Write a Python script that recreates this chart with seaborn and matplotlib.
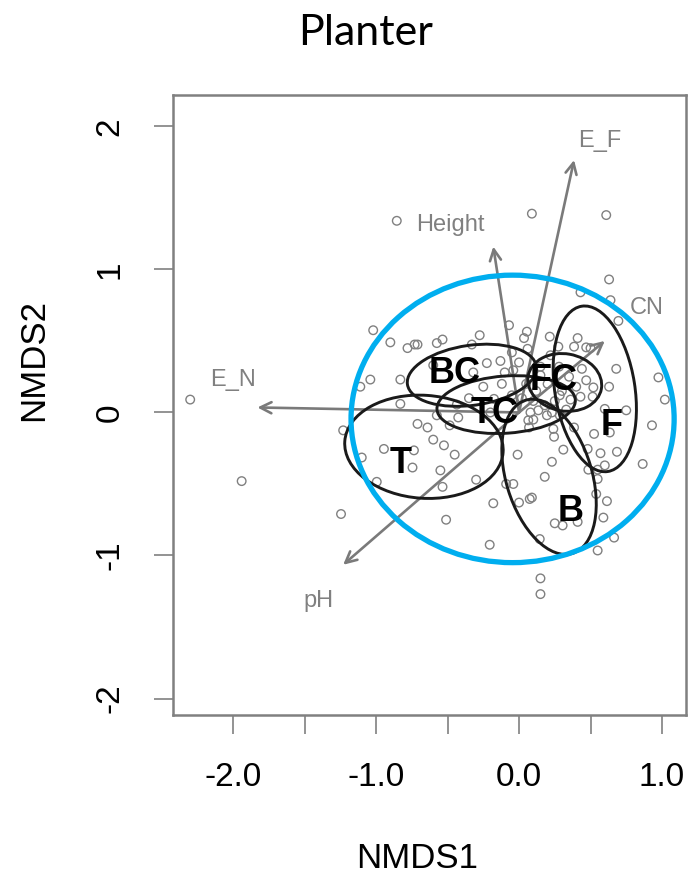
import numpy as np
import pandas as pd
import seaborn as sns
import matplotlib.pyplot as plt
from matplotlib.patches import Ellipse

# site scores
nmds1 = [-2.30, -1.94, -1.245, -0.855, 0.09, 0.61, 0.15, 0.15,
         -1.02, -0.90, -0.78, -0.73, -0.71, -0.575, -0.535, -0.33, -0.275, -0.225, -0.13, -0.32,
         -1.04, -0.83, -0.10, -0.07, -0.60,
         0.63, 0.43, 0.64, 0.695, 0.055, 0.035, 0.215, 0.41, 0.385, 0.47, 0.50, 0.275, 0.06,
         0.68, 0.44, 0.975, -0.04, 0.15,
         -1.11, -0.83, -0.575, -0.435, -0.425, -0.175, -0.71, -0.64, -1.23, -0.60, -0.525, -0.945,
         -0.735, -0.45, -1.10, -0.745, -0.55, -0.30, -0.535, -0.995, -0.18, -0.09, -0.485,
         0.63, 0.52, 0.47, 0.43, 0.515, 0.36, 0.285, 1.02, 0.60, 0.75, 0.93, 0.08, 0.135, 0.195,
         0.23, 0.285, 0.065, 0.07, 0.24, 0.245, 0.385, 0.525, 0.635, 0.31, 0.48, 0.57, 0.685,
         -0.01, 0.23, 0.485, 0.55, 0.60, 0.865, 0.18, 0.55, -0.04, 0.54, 0.615, 0.075, 0.09,
         -0.51, -0.205, 0.145, 0.25, 0.305, 0.41, 0.59, 0.665, 0.55, 0.0,
         0.02, 0.10, 0.18, 0.25, 0.12, -0.05, 0.30, 0.20, 0.05, 0.35, 0.40, 0.15, -0.12, 0.28,
         0.10, 0.33, -0.25, -0.20, 0.00, 0.22, -0.35, -0.05]
nmds2 = [0.09, -0.48, -0.71, 1.34, 1.39, 1.38, -1.16, -1.27,
         0.575, 0.49, 0.45, 0.475, 0.475, 0.485, 0.51, 0.475, 0.54, 0.345, 0.36, 0.28,
         0.23, 0.23, 0.28, 0.61, 0.33,
         0.93, 0.84, 0.785, 0.64, 0.565, 0.52, 0.53, 0.52, 0.46, 0.455, 0.45, 0.46, 0.445,
         0.305, 0.305, 0.245, 0.295, 0.26,
         0.18, 0.06, -0.02, 0.055, -0.035, 0.095, -0.08, -0.105, -0.125, -0.19, -0.23, -0.255,
         -0.265, -0.295, -0.315, -0.385, -0.405, -0.47, -0.52, -0.485, -0.635, -0.50, -0.09,
         0.18, 0.175, 0.225, 0.11, 0.11, 0.09, 0.12, 0.09, 0.025, 0.015, -0.09, 0.0, 0.015, -0.02,
         0.0, -0.02, -0.055, -0.105, -0.115, -0.17, -0.105, -0.15, -0.14, -0.26, -0.255, -0.285, -0.275,
         -0.295, -0.345, -0.40, -0.40, -0.37, -0.36, -0.45, -0.465, -0.50, -0.57, -0.62, -0.605, -0.595,
         -0.75, -0.925, -0.885, -0.775, -0.79, -0.765, -0.735, -0.875, -0.965, -0.63,
         0.10, 0.08, 0.05, 0.08, 0.15, 0.12, 0.15, 0.20, 0.20, 0.25, 0.18, 0.32, 0.20, 0.32,
         -0.05, 0.02, 0.18, 0.0, 0.35, 0.40, 0.10, 0.42]

# group ellipses
group_names = ['T', 'BC', 'TC', 'FC', 'F', 'B']
ell_x = [-0.665, -0.33, -0.09, 0.32, 0.53, 0.21]
ell_y = [-0.24, 0.26, 0.055, 0.21, 0.165, -0.45]
ell_w = [1.11, 0.91, 0.97, 0.52, 1.17, 1.12]
ell_h = [0.72, 0.42, 0.40, 0.40, 0.56, 0.60]
ell_angle = [-4, 8, 4, -10, 99, 107]
lab_x = [-0.83, -0.45, -0.17, 0.24, 0.645, 0.36]
lab_y = [-0.36, 0.27, -0.01, 0.22, -0.09, -0.695]

# fitted vectors
vec_names = ['E_N', 'Height', 'E_F', 'CN', 'pH']
vec_x = [-1.83, -0.18, 0.385, 0.60, -1.23]
vec_y = [0.035, 1.16, 1.765, 0.50, -1.065]
vec_lab_x = [-2.0, -0.48, 0.565, 0.89, -1.40]
vec_lab_y = [0.227, 1.31, 1.90, 0.73, -1.32]

sns.set_style('white')
plt.rcParams['font.family'] = ['Liberation Sans', 'DejaVu Sans']
plt.rcParams['text.color'] = 'black'
plt.rcParams['axes.labelcolor'] = 'black'

fig = plt.figure(figsize=(6.88, 8.75), dpi=100)
ax = fig.add_axes([0.2515, 0.1829, 0.7456, 0.7086])

df = pd.DataFrame({'NMDS1': nmds1, 'NMDS2': nmds2})
sns.scatterplot(data=df, x='NMDS1', y='NMDS2', ax=ax, marker='o', s=38,
                facecolors='none', edgecolor='#808080', linewidth=1.0, zorder=2)

for tx, ty in zip(vec_x, vec_y):
    ax.annotate('', xy=(tx, ty), xytext=(0, 0),
                arrowprops=dict(arrowstyle='->,head_length=0.4,head_width=0.2', color='#7a7a7a',
                                lw=1.9, shrinkA=0, shrinkB=0, mutation_scale=20), zorder=3)
for name, lx, ly in zip(vec_names, vec_lab_x, vec_lab_y):
    ax.text(lx, ly, name, color='#808080', fontsize=17, ha='center', va='center', zorder=3)

for cx, cy, w, h, a in zip(ell_x, ell_y, ell_w, ell_h, ell_angle):
    ax.add_patch(Ellipse((cx, cy), w, h, angle=a, fill=False, ec='#1a1a1a', lw=2.1, zorder=4))
for name, lx, ly in zip(group_names, lab_x, lab_y):
    ax.text(lx, ly, name, color='black', fontsize=26, fontweight='bold', ha='center', va='center', zorder=5)

# big blue outline
ax.add_patch(Ellipse((-0.045, -0.045), 2.26, 2.01, fill=False, ec='#00AEEF', lw=3.8, zorder=6))

ax.set_xlim(-2.42, 1.168)
ax.set_ylim(-2.115, 2.22)
ax.set_xticks([-2, -1.5, -1, -0.5, 0, 0.5, 1])
ax.set_xticklabels(['-2.0', '', '-1.0', '', '0.0', '', '1.0'])
ax.set_yticks([-2, -1, 0, 1, 2])
ax.set_yticklabels(['-2', '-1', '0', '1', '2'], rotation=90, va='center')
ax.tick_params(direction='out', length=14, width=1.2, color='#808080', pad=20, labelsize=24,
               labelcolor='black', bottom=True, left=True)
for sp in ax.spines.values():
    sp.set_visible(True)
    sp.set_color('#808080')
    sp.set_linewidth(1.8)

ax.set_xlabel('NMDS1', fontsize=25, va='baseline')
ax.xaxis.set_label_coords(0.4756, -0.2475)
ax.set_ylabel('NMDS2', fontsize=25, va='baseline')
ax.yaxis.set_label_coords(-0.2534, 0.5718)

fig.text(366 / 688, (875 - 45) / 875, 'Planter', family=['Lato', 'DejaVu Sans'], fontsize=31,
         ha='center', va='baseline')

fig.savefig('out.png', dpi=100)
